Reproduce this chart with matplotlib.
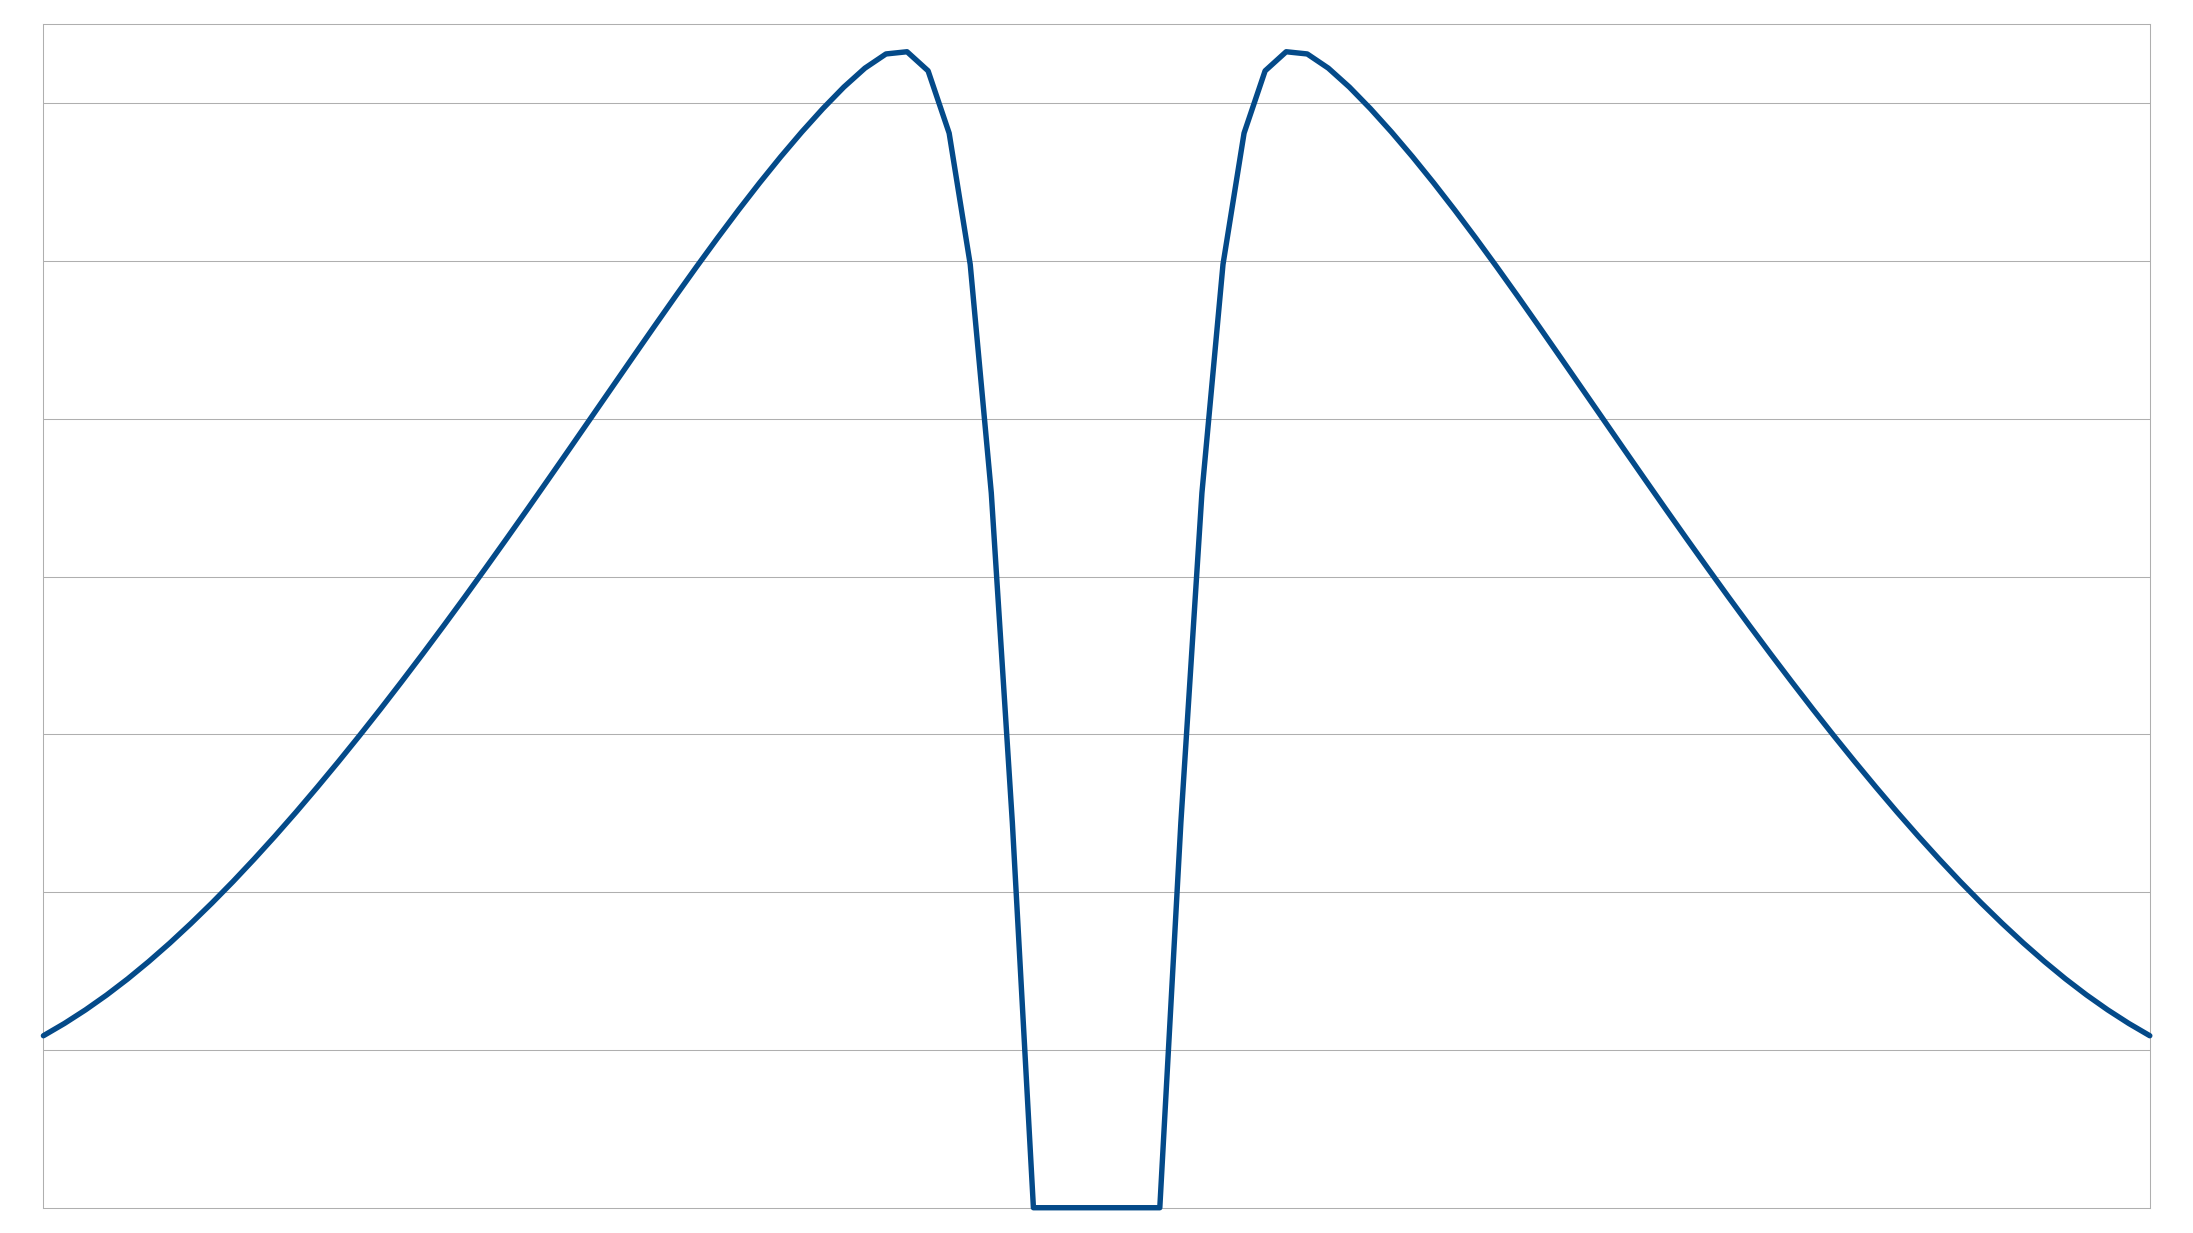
import numpy as np
import matplotlib
matplotlib.use("Agg")
import matplotlib.pyplot as plt

# category positions (101 points, no labels shown on the chart)
positions = np.arange(101)

# values, left flank / notch / right flank
left_flank = [1.090, 1.168, 1.254, 1.348, 1.450, 1.560, 1.677, 1.801, 1.931, 2.067,
              2.209, 2.356, 2.508, 2.665, 2.826, 2.991, 3.160, 3.333, 3.509, 3.688,
              3.870, 4.055, 4.242, 4.431, 4.622, 4.814, 5.007, 5.200, 5.393, 5.585,
              5.775, 5.962, 6.145, 6.323, 6.495, 6.660, 6.817, 6.965, 7.102, 7.222,
              7.312, 7.326, 7.205, 6.810, 5.978, 4.530, 2.440]
notch = [0, 0, 0, 0, 0, 0, 0]
right_flank = [2.440, 4.530, 5.978, 6.810, 7.205, 7.326, 7.312, 7.222, 7.102, 6.965,
               6.817, 6.660, 6.495, 6.323, 6.145, 5.962, 5.775, 5.585, 5.393, 5.200,
               5.007, 4.814, 4.622, 4.431, 4.242, 4.055, 3.870, 3.688, 3.509, 3.333,
               3.160, 2.991, 2.826, 2.665, 2.508, 2.356, 2.209, 2.067, 1.931, 1.801,
               1.677, 1.560, 1.450, 1.348, 1.254, 1.168, 1.090]
values = left_flank + notch + right_flank

grid_ticks = [1, 2, 3, 4, 5, 6, 7]

fig = plt.figure(figsize=(21.93, 12.33), dpi=100)
ax = fig.add_axes([0.0198, 0.0205, 0.9605, 0.9598])

ax.plot(positions, values, color="#044A89", linewidth=3.9,
        solid_joinstyle="round", solid_capstyle="round", clip_on=False,
        zorder=3)

ax.set_xlim(0, 100)
ax.set_ylim(0, 7.5)
ax.set_yticks(grid_ticks)
ax.set_xticks([])
ax.tick_params(axis="both", length=0, labelleft=False, labelbottom=False)
ax.grid(axis="y", color="#AFAFAF", linewidth=0.75)
ax.set_axisbelow(True)
for side in ax.spines.values():
    side.set_color("#AFAFAF")
    side.set_linewidth(0.75)

plt.savefig("out.png", dpi=100)
